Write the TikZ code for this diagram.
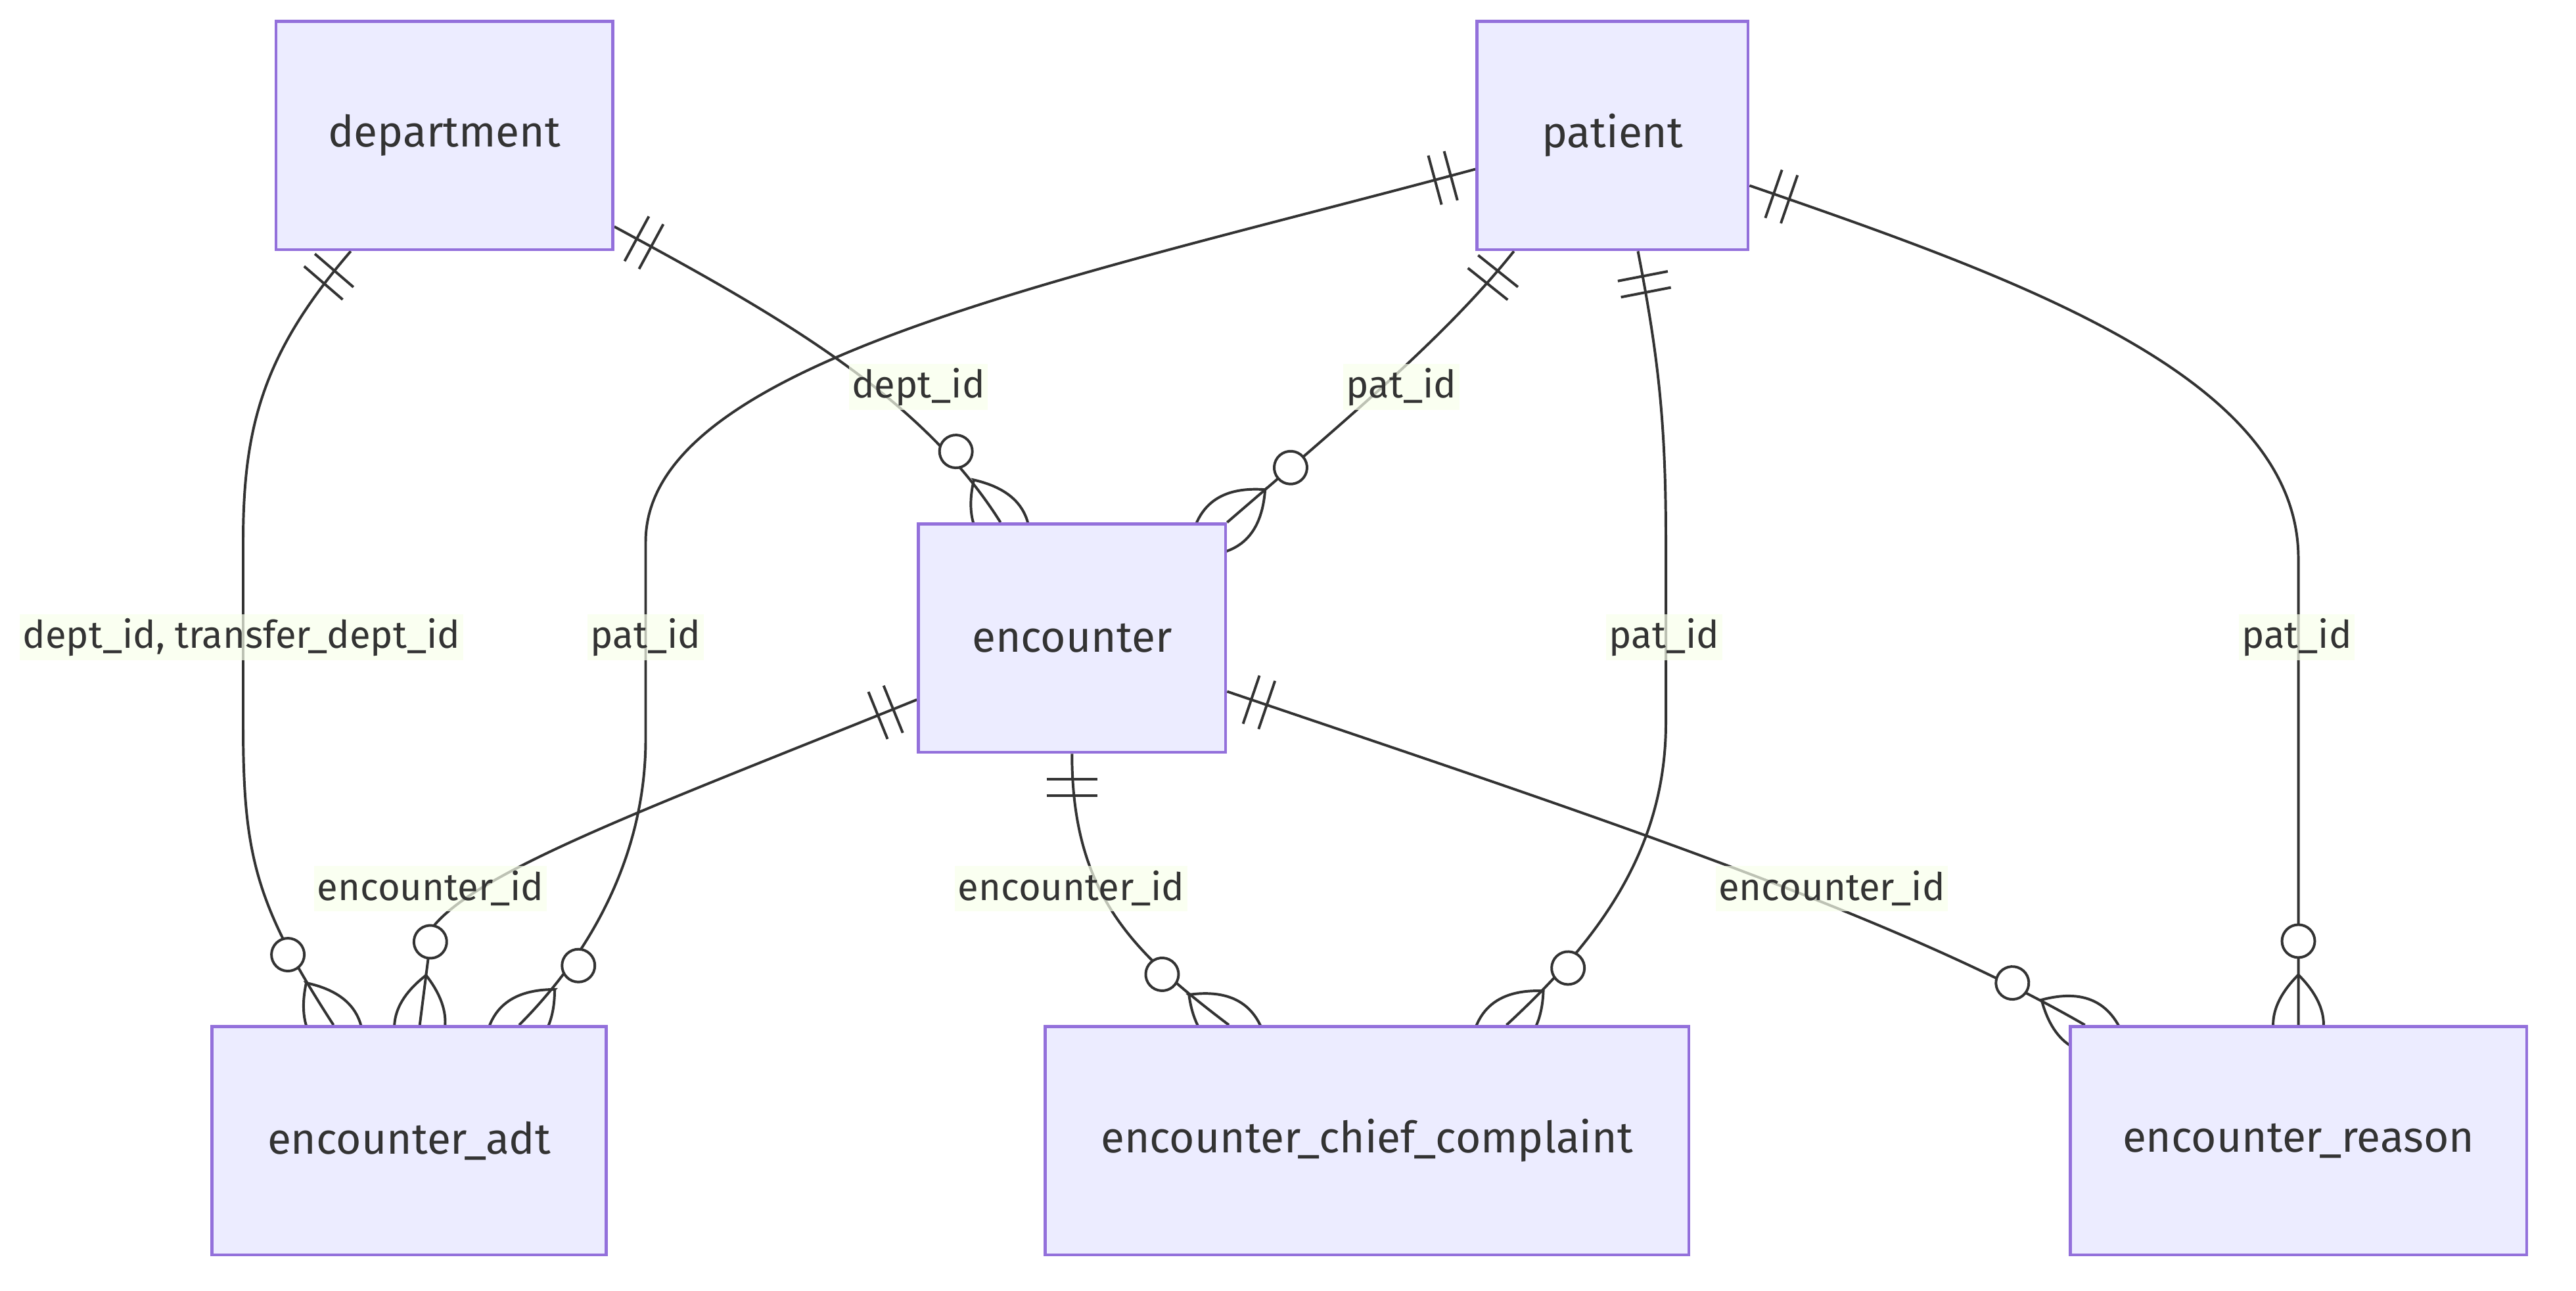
\documentclass[tikz,border=0pt]{standalone}
\usepackage{fontspec}
\setmainfont{Fira Sans}
\usetikzlibrary{calc,decorations.markings}
\definecolor{boxfill}{HTML}{ECECFF}
\definecolor{boxdraw}{HTML}{9370DB}
\definecolor{linecol}{HTML}{333333}
\definecolor{lblfill}{HTML}{F9FFEC}
\pgfdeclarelayer{bg}
\pgfdeclarelayer{edges}
\pgfsetlayers{bg,edges,main}

\begin{document}
\begin{tikzpicture}
	[   x=0.02cm,y=-0.02cm,
		enode/.style={draw=boxdraw,fill=boxfill,line width=1.1pt,text=linecol,minimum width=#1,minimum height=2.78cm,font=\fontsize{15}{18}\selectfont},
		elabel/.style={fill=lblfill,fill opacity=0.7,text opacity=1,text=linecol,inner xsep=1pt,inner ysep=0pt,minimum height=0.56cm,font=\fontsize{13.2}{16}\selectfont},
	]
	\tikzset{rel line/.style={draw=linecol,line width=0.9pt,postaction={decorate,decoration={markings,
				mark=at position 0 with {\draw[linecol,line width=0.9pt] (0.31cm,-0.31cm) -- (0.31cm,0.31cm) (0.51cm,-0.31cm) -- (0.51cm,0.31cm);},
				mark=at position 0.9999 with {\draw[linecol,line width=0.9pt] (-0.61cm,0) .. controls (-0.2cm,0.41cm) and (0.2cm,0.41cm) .. (0.61cm,0) .. controls (0.2cm,-0.41cm) and (-0.2cm,-0.41cm) .. cycle;
					\draw[linecol,fill=white,line width=0.9pt] (-1.02cm,0) circle (0.2cm);}}}}}
	\begin{pgfonlayer}{bg}
		\fill[white] (0,0) rectangle (1568,786);
	\end{pgfonlayer}
	\useasboundingbox (0,0) rectangle (1568,786);
	
	\node[enode=4.1cm] (department) at (270.5,82.5) {department};
	\node[enode=3.3cm] (patient) at (981.5,82.5) {patient};
	\node[enode=3.74cm] (encounter) at (652.5,388.5) {encounter};
	\node[enode=4.8cm] (adt) at (249,694.5) {encounter\_adt};
	\node[enode=7.84cm] (chief) at (832,694.5) {encounter\_chief\_complaint};
	\node[enode=5.56cm] (reason) at (1399,694.5) {encounter\_reason};
	
	\begin{pgfonlayer}{edges}
		\path[rel line] ($(department.south)+(-57,0)$) .. controls (160,215) and (148,260) .. (148,330) -- (148,440) .. controls (148,520) and (155,550) .. ($(adt.north)+(-46,0)$);
		\path[rel line] ($(department.east)+(0,55.5)$) .. controls (470,190) and (560,240) .. ($(encounter.north)+(-43.5,0)$);
		\path[rel line] ($(patient.west)+(0,20.5)$) .. controls (650,170) and (393,220) .. (393,330) -- (393,450) .. controls (393,520) and (360,580) .. ($(adt.north)+(67,0)$);
		\path[rel line] ($(patient.south)+(-60,0)$) .. controls (880,205) and (820,255) .. (encounter.north east);
		\path[rel line] ($(patient.south)+(15.5,0)$) .. controls (1010,220) and (1014,260) .. (1014,330) -- (1014,440) .. controls (1014,520) and (970,575) .. ($(chief.north)+(85,0)$);
		\path[rel line] ($(patient.east)+(0,30.5)$) .. controls (1230,170) and (1399,230) .. (1399,340) -- (reason.north);
		\path[rel line] ($(encounter.west)+(0,37.5)$) .. controls (400,490) and (290,530) .. (263,565) -- ($(adt.north)+(6.5,0)$);
		\path[rel line] (encounter.south) .. controls (652.5,545) and (690,580) .. ($(chief.north)+(-84,0)$);
		\path[rel line] ($(encounter.east)+(0,32.5)$) .. controls (950,490) and (1150,555) .. ($(reason.north west)+(10,0)$);
	\end{pgfonlayer}
	
	\node[elabel] (l-dept-adt) at (147,388) {dept\_id, transfer\_dept\_id};
	\node[elabel] (l-dept-enc) at (559,235.5) {dept\_id};
	\node[elabel] (l-pat-enc) at (853,235.5) {pat\_id};
	\foreach \x/\n in {393/adt,1013/chief,1398/reason}
	{
		\node[elabel] (l-pat-\n) at (\x,388) {pat\_id};
	}
	\foreach \x/\n in {262/adt,652/chief,1115/reason}
	{
		\node[elabel] (l-enc-\n) at (\x,541) {encounter\_id};
	}
\end{tikzpicture}
\end{document}
